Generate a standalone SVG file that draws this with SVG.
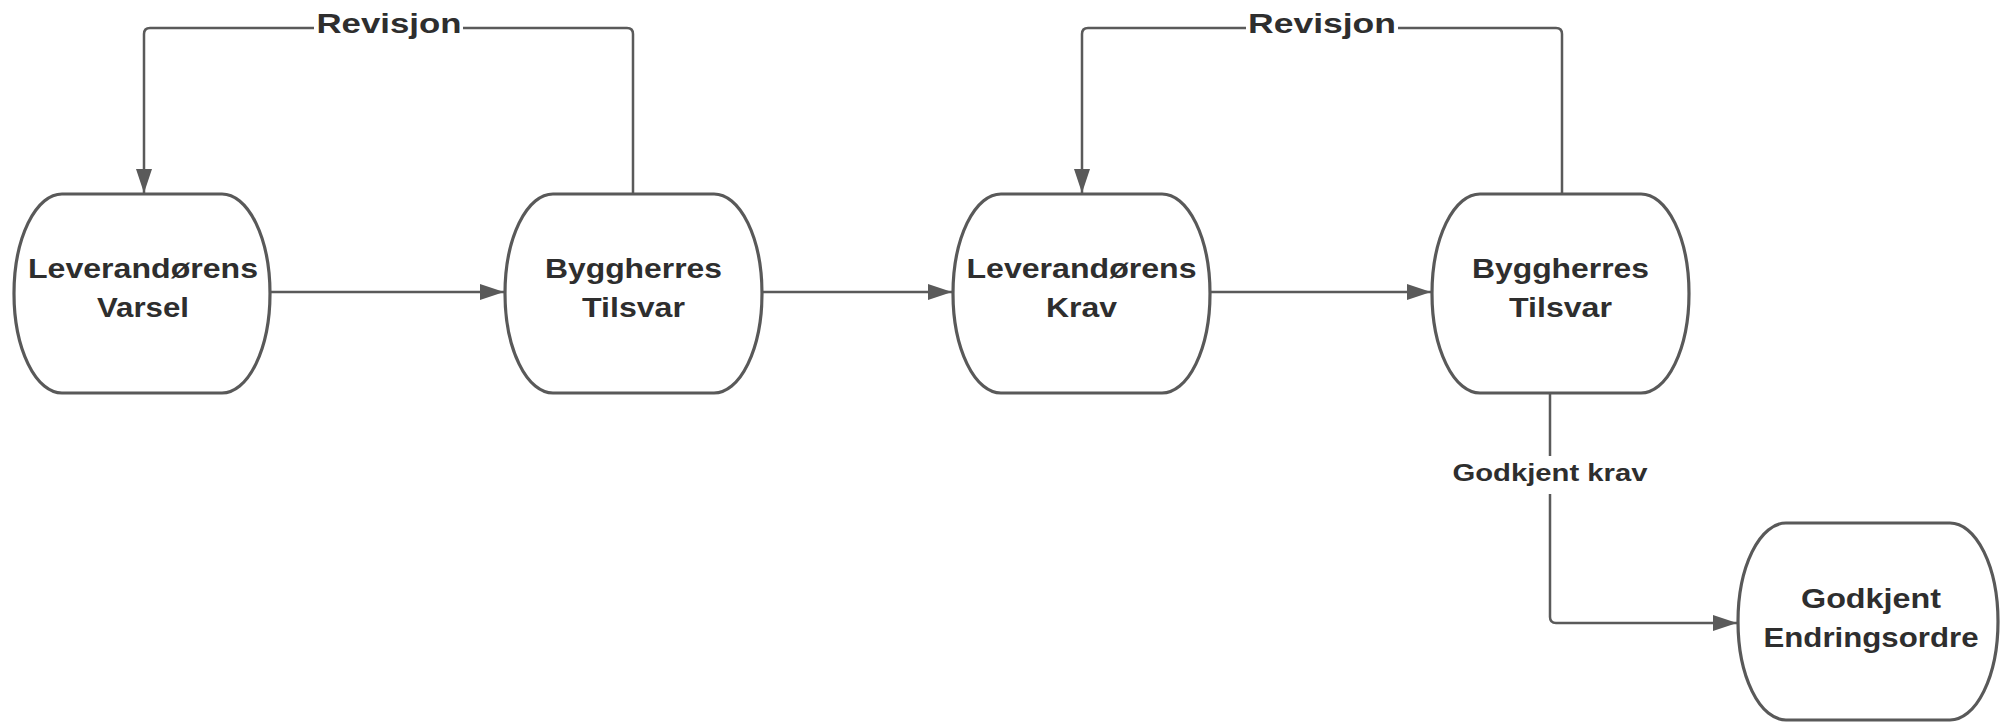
<svg xmlns="http://www.w3.org/2000/svg" width="2005" height="723" viewBox="0 0 2005 723">
  <style>
    .node { fill: #ffffff; stroke: #595959; stroke-width: 3.2; }
    .conn { fill: none; stroke: #5a5a5a; stroke-width: 2.5; }
    .nt { font-family: "Liberation Sans", Arial, sans-serif; font-weight: bold; font-size: 28px; fill: #2e2e2e; text-anchor: middle; }
    .lt { font-family: "Liberation Sans", Arial, sans-serif; font-weight: bold; font-size: 28px; fill: #2e2e2e; text-anchor: middle; }
    .lt2 { font-family: "Liberation Sans", Arial, sans-serif; font-weight: bold; font-size: 23px; fill: #2e2e2e; text-anchor: middle; }
  </style>
  <defs>
    <marker id="arr" markerUnits="userSpaceOnUse" markerWidth="26" markerHeight="18" refX="24" refY="8" orient="auto">
      <path d="M0,0 L24,8 L0,16 Z" fill="#5a5a5a"/>
    </marker>
  </defs>
  <rect width="2005" height="723" fill="#ffffff"/>

  <g id="connectors">
    <path class="conn" d="M633,194 V34 Q633,28 627,28 H150 Q144,28 144,34 V193" marker-end="url(#arr)"/>
    <path class="conn" d="M1562,194 V34 Q1562,28 1556,28 H1088 Q1082,28 1082,34 V193" marker-end="url(#arr)"/>
    <path class="conn" d="M270,292 H504" marker-end="url(#arr)"/>
    <path class="conn" d="M762,292 H952" marker-end="url(#arr)"/>
    <path class="conn" d="M1210,292 H1431" marker-end="url(#arr)"/>
    <path class="conn" d="M1550,393 V617 Q1550,623 1556,623 H1737" marker-end="url(#arr)"/>
    <rect x="314" y="8" width="149" height="36" fill="#ffffff"/>
    <text class="lt" x="389" y="33" textLength="145" lengthAdjust="spacingAndGlyphs">Revisjon</text>
    <rect x="1246" y="8" width="152" height="36" fill="#ffffff"/>
    <text class="lt" x="1322" y="33" textLength="148" lengthAdjust="spacingAndGlyphs">Revisjon</text>
    <rect x="1450" y="456" width="200" height="38" fill="#ffffff"/>
    <text class="lt2" x="1550" y="481" textLength="195" lengthAdjust="spacingAndGlyphs">Godkjent krav</text>
  </g>

  <g id="node-leverandorens-varsel">
    <rect class="node" x="14" y="194" width="256" height="199" rx="48" ry="99.5"/>
    <text class="nt" x="143" y="278" textLength="230" lengthAdjust="spacingAndGlyphs">Leverandørens</text>
    <text class="nt" x="143" y="317" textLength="92" lengthAdjust="spacingAndGlyphs">Varsel</text>
  </g>

  <g id="node-byggherres-tilsvar-1">
    <rect class="node" x="505" y="194" width="257" height="199" rx="48" ry="99.5"/>
    <text class="nt" x="633.5" y="278" textLength="177" lengthAdjust="spacingAndGlyphs">Byggherres</text>
    <text class="nt" x="633.5" y="317" textLength="103" lengthAdjust="spacingAndGlyphs">Tilsvar</text>
  </g>

  <g id="node-leverandorens-krav">
    <rect class="node" x="953" y="194" width="257" height="199" rx="48" ry="99.5"/>
    <text class="nt" x="1081.5" y="278" textLength="230" lengthAdjust="spacingAndGlyphs">Leverandørens</text>
    <text class="nt" x="1081.5" y="317" textLength="71" lengthAdjust="spacingAndGlyphs">Krav</text>
  </g>

  <g id="node-byggherres-tilsvar-2">
    <rect class="node" x="1432" y="194" width="257" height="199" rx="48" ry="99.5"/>
    <text class="nt" x="1560.5" y="278" textLength="177" lengthAdjust="spacingAndGlyphs">Byggherres</text>
    <text class="nt" x="1560.5" y="317" textLength="103" lengthAdjust="spacingAndGlyphs">Tilsvar</text>
  </g>

  <g id="node-godkjent-endringsordre">
    <rect class="node" x="1738" y="523" width="260" height="197" rx="48" ry="98.5"/>
    <text class="nt" x="1871" y="608" textLength="140" lengthAdjust="spacingAndGlyphs">Godkjent</text>
    <text class="nt" x="1871" y="647" textLength="215" lengthAdjust="spacingAndGlyphs">Endringsordre</text>
  </g>
</svg>
